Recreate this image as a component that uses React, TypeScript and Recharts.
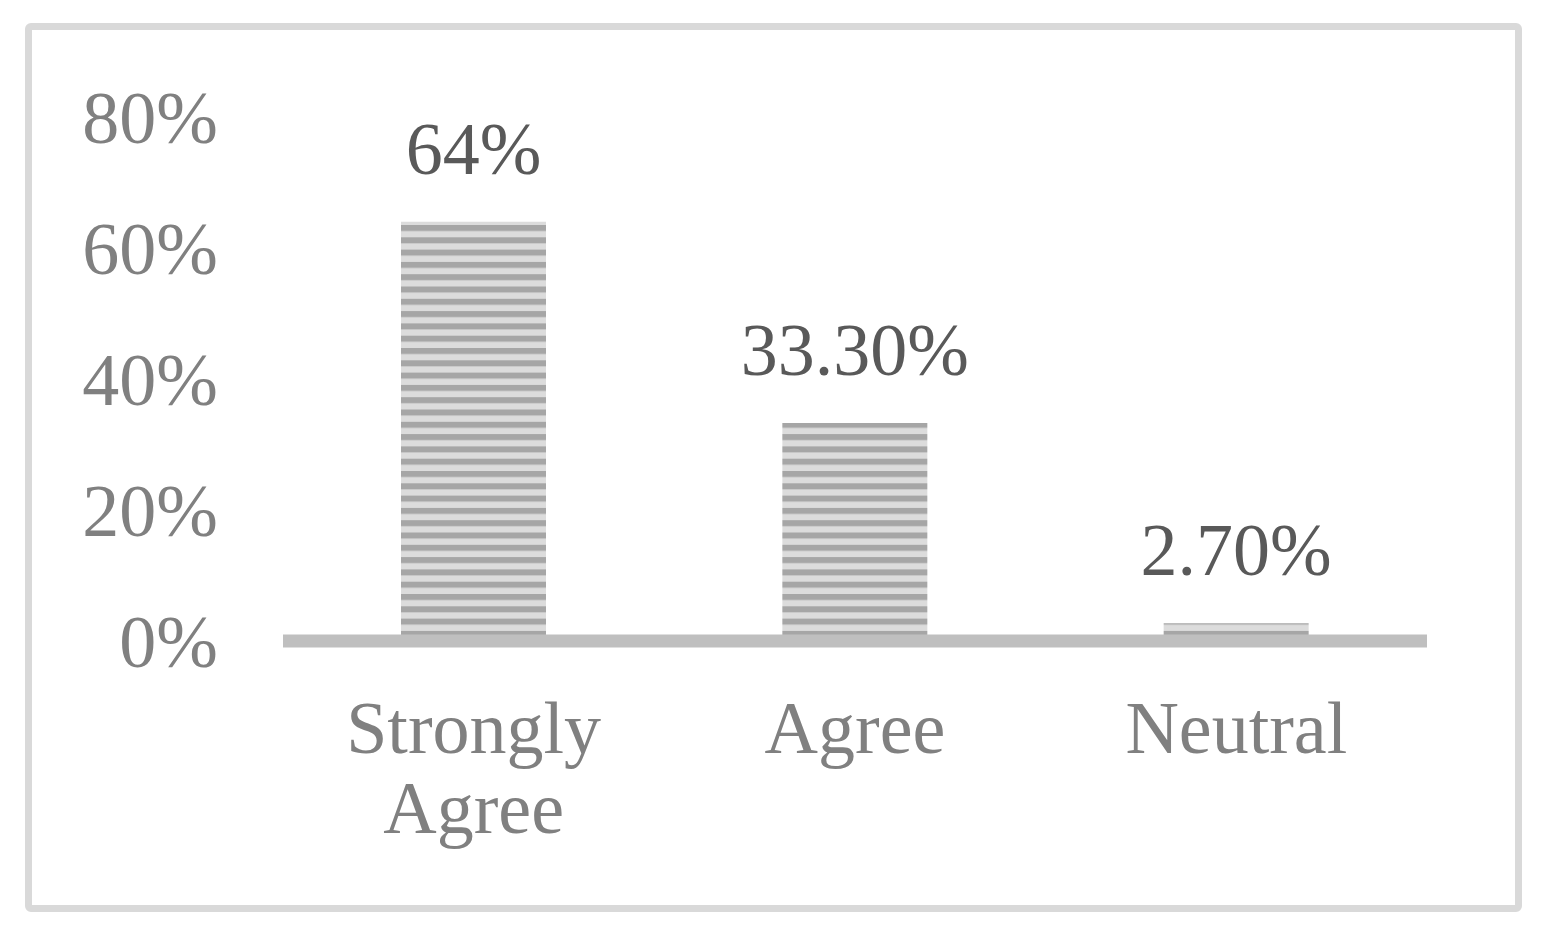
import React from "react";
import { BarChart, Bar, XAxis, YAxis, LabelList } from "recharts";

const categories = ["Strongly Agree", "Agree", "Neutral"];
const shares = [64, 33.3, 2.7];
const shareLabels = ["64%", "33.30%", "2.70%"];
const yTicks = [0, 20, 40, 60, 80];

const data = categories.map((name, i) => ({
  name,
  value: shares[i],
  label: shareLabels[i],
}));

const FONT = '"Liberation Serif", "Times New Roman", serif';

const YTick = (props: any) => {
  const { y, payload } = props;
  return (
    <text x={218} y={y} dy="0.355em" textAnchor="end" fill="#808080" fontSize={74} fontFamily={FONT}>
      {payload.value}%
    </text>
  );
};

const XTick = (props: any) => {
  const { x, y, payload } = props;
  const words = payload.value === "Strongly Agree" ? ["Strongly", "Agree"] : [payload.value];
  return (
    <text x={x} y={y + 104} textAnchor="middle" fill="#808080" fontSize={74} fontFamily={FONT}>
      {words.map((w: string, i: number) => (
        <tspan key={w} x={x} dy={i === 0 ? 0 : 80}>
          {w}
        </tspan>
      ))}
    </text>
  );
};

const ValueLabel = (props: any) => {
  const { x, y, width, value } = props;
  return (
    <text x={x + width / 2} y={y - 48} textAnchor="middle" fill="#595959" fontSize={74} fontFamily={FONT}>
      {value}
    </text>
  );
};

export default function App() {
  return (
    <div style={{ position: "absolute", left: 0, top: 0, width: 1555, height: 935, background: "#fff" }}>
      <div
        style={{
          position: "absolute",
          left: 25,
          top: 23,
          width: 1483,
          height: 875,
          border: "7px solid #d9d9d9",
          borderRadius: 6,
        }}
      />
      <BarChart
        width={1555}
        height={935}
        data={data}
        margin={{ top: 117, right: 128, bottom: 264, left: 83 }}
        barCategoryGap={0}
        style={{ position: "absolute", left: 0, top: 0 }}
      >
        <defs>
          <pattern id="stripes" patternUnits="userSpaceOnUse" width={12.3} height={12.3} y={225}>
            <rect x={0} y={0} width={12.3} height={12.3} fill="#dcdcdc" />
            <rect x={0} y={0} width={12.3} height={6} fill="#a6a6a6" />
          </pattern>
        </defs>
        <YAxis
          width={200}
          domain={[0, 80]}
          ticks={yTicks}
          axisLine={false}
          tickLine={false}
          tick={<YTick />}
          interval={0}
        />
        <XAxis
          dataKey="name"
          axisLine={{ stroke: "#bfbfbf", strokeWidth: 13 }}
          tickLine={false}
          tick={<XTick />}
          interval={0}
        />
        <Bar dataKey="value" fill="url(#stripes)" barSize={145} isAnimationActive={false}>
          <LabelList dataKey="label" content={<ValueLabel />} />
        </Bar>
      </BarChart>
    </div>
  );
}
